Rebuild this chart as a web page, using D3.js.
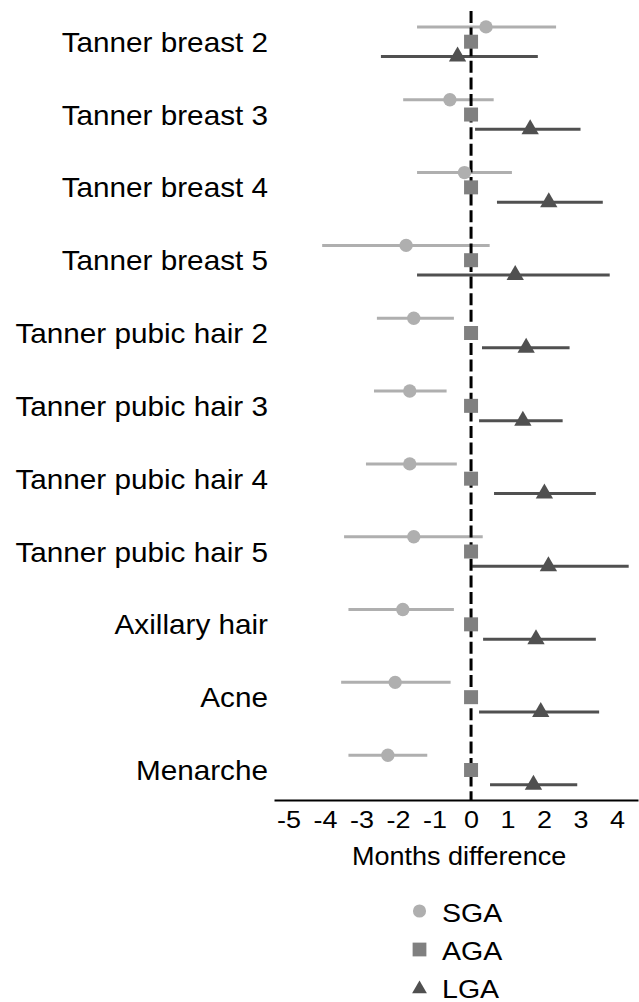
<!DOCTYPE html>
<html>
<head>
<meta charset="utf-8">
<script src="https://cdn.jsdelivr.net/npm/d3@7"></script>
<style>
  html, body { margin: 0; padding: 0; background: #fff; }
  svg { display: block; font-family: "Liberation Sans", Arial, sans-serif; }
</style>
</head>
<body>
<svg id="chart" width="639" height="1002"></svg>
<script>
// ---- Data ----
const categories = [
  "Tanner breast 2", "Tanner breast 3", "Tanner breast 4", "Tanner breast 5",
  "Tanner pubic hair 2", "Tanner pubic hair 3", "Tanner pubic hair 4", "Tanner pubic hair 5",
  "Axillary hair", "Acne", "Menarche"
];
const seriesNames = ["SGA", "AGA", "LGA"];
const sgaEst  = [0.41, -0.58, -0.18, -1.78, -1.57, -1.68, -1.68, -1.57, -1.87, -2.08, -2.28];
const sgaLow  = [-1.48, -1.86, -1.48, -4.08, -2.58, -2.66, -2.88, -3.48, -3.36, -3.56, -3.36];
const sgaHigh = [2.33, 0.62, 1.12, 0.51, -0.47, -0.67, -0.39, 0.32, -0.47, -0.56, -1.20];
const agaEst  = [0, 0, 0, 0, 0, 0, 0, 0, 0, 0, 0];
const lgaEst  = [-0.37, 1.62, 2.13, 1.21, 1.51, 1.42, 2.01, 2.12, 1.78, 1.91, 1.71];
const lgaLow  = [-2.47, 0.11, 0.71, -1.48, 0.30, 0.22, 0.63, 0.03, 0.33, 0.22, 0.52];
const lgaHigh = [1.83, 3.00, 3.61, 3.80, 2.70, 2.51, 3.42, 4.32, 3.42, 3.51, 2.91];
const xTicks = [-5, -4, -3, -2, -1, 0, 1, 2, 3, 4];
const xTitle = "Months difference";

// ---- Styles ----
const colors = { SGA: "#afafaf", AGA: "#808080", LGA: "#505050" };
const symbols = {
  SGA: d3.symbol().type(d3.symbolCircle).size(140),
  AGA: d3.symbol().type(d3.symbolSquare).size(196),
  LGA: d3.symbol().type(d3.symbolTriangle).size(130)
};
const legendSymbols = {
  SGA: d3.symbol().type(d3.symbolCircle).size(135),
  AGA: d3.symbol().type(d3.symbolSquare).size(190),
  LGA: d3.symbol().type(d3.symbolTriangle).size(95)
};
const SX = 1.1; // horizontal text stretch

const svg = d3.select("#chart");

const x = d3.scaleLinear().domain([-5.4, 4.575]).range([274, 638]);
const y = d3.scalePoint().domain(categories).range([41.7, 770]);
const off = d3.scalePoint().domain(seriesNames).range([-14.8, 14.8]);
const axisY = 800;

const rows = categories.map((c, i) => ({
  cat: c,
  SGA: { est: sgaEst[i], lo: sgaLow[i], hi: sgaHigh[i] },
  AGA: { est: agaEst[i] },
  LGA: { est: lgaEst[i], lo: lgaLow[i], hi: lgaHigh[i] }
}));

// error bars
["SGA", "LGA"].forEach(s => {
  svg.append("g").selectAll("line").data(rows).join("line")
    .attr("x1", d => x(d[s].lo)).attr("x2", d => x(d[s].hi))
    .attr("y1", d => y(d.cat) + off(s)).attr("y2", d => y(d.cat) + off(s))
    .attr("stroke", colors[s]).attr("stroke-width", 3);
});

// zero reference dashed line
svg.append("line")
  .attr("x1", x(0)).attr("x2", x(0))
  .attr("y1", 11).attr("y2", axisY)
  .attr("stroke", "#000").attr("stroke-width", 3)
  .attr("stroke-dasharray", "12,4.6");

// markers
seriesNames.forEach(s => {
  svg.append("g").selectAll("path").data(rows).join("path")
    .attr("d", symbols[s])
    .attr("transform", d => `translate(${x(d[s].est)},${y(d.cat) + off(s)})`)
    .attr("fill", colors[s]);
});

// category labels
svg.append("g").selectAll("text").data(categories).join("text")
  .attr("transform", d => `translate(268,${y(d) + 10}) scale(${SX},1)`)
  .attr("text-anchor", "end")
  .attr("font-size", 27)
  .attr("fill", "#000")
  .text(d => d);

// x axis
const axis = d3.axisBottom(x).tickValues(xTicks).tickSize(0).tickPadding(0)
  .tickFormat(d3.format("d"));
const gx = svg.append("g").attr("transform", `translate(0,${axisY})`).call(axis);
gx.select(".domain").attr("stroke", "#000").attr("stroke-width", 2);
gx.selectAll(".tick text")
  .attr("font-size", 24.5)
  .attr("font-family", "'Liberation Sans', Arial, sans-serif")
  .attr("fill", "#000")
  .attr("dy", null)
  .attr("y", 0)
  .attr("transform", `translate(0,27.5) scale(${SX},1)`)
  .text(d => d < 0 ? "-" + Math.abs(d) : String(d));

svg.append("text")
  .attr("transform", `translate(${x(0) - 12},865) scale(1.06,1)`)
  .attr("text-anchor", "middle")
  .attr("font-size", 25.5)
  .attr("fill", "#000")
  .text(xTitle);

// legend
const leg = svg.append("g");
const legY = d3.scalePoint().domain(seriesNames).range([913, 989]);
seriesNames.forEach(s => {
  const cy = legY(s);
  leg.append("path")
    .attr("d", legendSymbols[s])
    .attr("transform", `translate(419.5,${s === "SGA" ? cy - 2 : (s === "AGA" ? cy - 1.5 : cy)})`)
    .attr("fill", colors[s]);
  leg.append("text")
    .attr("transform", `translate(442,${cy + 8.5}) scale(1.12,1)`)
    .attr("font-size", 25.5)
    .attr("fill", "#000")
    .text(s);
});
</script>
</body>
</html>
